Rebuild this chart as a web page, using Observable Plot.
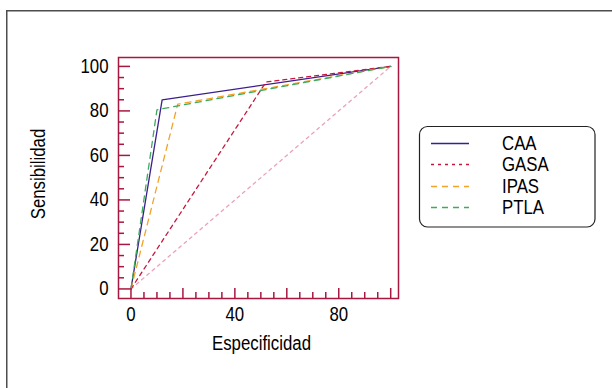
<!DOCTYPE html>
<html>
<head>
<meta charset="utf-8">
<script src="https://cdn.jsdelivr.net/npm/d3@7"></script>
<script src="https://cdn.jsdelivr.net/npm/@observablehq/plot@0.6"></script>
<style>
  body { margin: 0; background: #fff; }
  #chart { position: relative; width: 612px; height: 388px; overflow: hidden; }
  svg { font-family: "Liberation Sans", Arial, Helvetica, sans-serif; }
</style>
</head>
<body>
<div id="chart"></div>
<script>
// ---- data ----
const seriesNames = ["CAA", "GASA", "IPAS", "PTLA"];
const seriesColors = ["#3b1f8c", "#c8173f", "#f0a429", "#3fa95d"];
const seriesDashes = [null, "4,4", "6,5", "6,5"];

const caaX = [0, 12, 100];
const caaY = [0, 85, 100];
const gasaX = [0, 52, 100];
const gasaY = [0, 93, 100];
const ipasX = [0, 18, 100];
const ipasY = [0, 83, 100];
const ptlaX = [0, 10, 100];
const ptlaY = [0, 80.5, 100];
const refX = [0, 100];
const refY = [0, 100];

const xMajorTicks = [0, 20, 40, 60, 80, 100];
const xMinorTicks = [5, 10, 15, 25, 30, 35, 45, 50, 55, 65, 70, 75, 85, 90, 95];
const xTickLabels = [0, 40, 80];
const yMajorTicks = [0, 20, 40, 60, 80, 100];
const yMinorTicks = [5, 10, 15, 25, 30, 35, 45, 50, 55, 65, 70, 75, 85, 90, 95];
const yTickLabels = [0, 20, 40, 60, 80, 100];

// ---- layout ----
const W = 612, H = 388;
const mL = 118, mR = 214, mT = 57, mB = 90;
const frameW = W - mL - mR, frameH = H - mT - mB;
const axisColor = "#a8173f";
const FONT = '"Liberation Sans", Arial, Helvetica, sans-serif';
const FS = 20;
const SQUEEZE = 0.84; // condensed look of the original typeface

const pts = (xs, ys) => xs.map((x, i) => ({x, y: ys[i]}));
const seriesData = [pts(caaX, caaY), pts(gasaX, gasaY), pts(ipasX, ipasY), pts(ptlaX, ptlaY)];

const marks = [
  Plot.line(pts(refX, refY), {x: "x", y: "y", stroke: "#eaa2ba", strokeWidth: 1.3, strokeDasharray: "3,4"}),
  ...seriesData.map((d, i) => Plot.line(d, {
    x: "x", y: "y", stroke: seriesColors[i], strokeWidth: 1.3,
    strokeDasharray: seriesDashes[i]
  })),
  Plot.frame({stroke: axisColor, strokeWidth: 1.5}),
  Plot.tickX(xMajorTicks, {x: d => d, stroke: axisColor, strokeWidth: 1.5, insetTop: frameH - 10}),
  Plot.tickX(xMinorTicks, {x: d => d, stroke: axisColor, strokeWidth: 1.5, insetTop: frameH - 6}),
  Plot.tickY(yMajorTicks, {y: d => d, stroke: axisColor, strokeWidth: 1.5, insetRight: frameW - 12}),
  Plot.tickY(yMinorTicks, {y: d => d, stroke: axisColor, strokeWidth: 1.5, insetRight: frameW - 6}),
  Plot.axisX(xTickLabels, {tickSize: 0, tickPadding: 8, fontSize: FS, label: null}),
  Plot.axisY(yTickLabels, {tickSize: 0, tickPadding: 10, fontSize: FS, label: null}),
  Plot.text(["Especificidad"], {text: d => d, frameAnchor: "bottom", lineAnchor: "middle", textAnchor: "middle", dy: 45, dx: 3, fontSize: FS, fill: "black"}),
  Plot.text(["Sensibilidad"], {text: d => d, frameAnchor: "left", lineAnchor: "middle", textAnchor: "middle", dx: -80, dy: -4, rotate: -90, fontSize: FS, fill: "black"})
];

const svg = Plot.plot({
  width: W, height: H,
  marginLeft: mL, marginRight: mR, marginTop: mT, marginBottom: mB,
  x: {domain: [-4.8, 103]},
  y: {domain: [-4.3, 104]},
  style: {fontFamily: FONT, color: "black", background: "white", fontSize: FS + "px"},
  marks
});
document.getElementById("chart").appendChild(svg);

// outer panel border
const s = d3.select(svg);
s.append("rect")
  .attr("x", 6.75).attr("y", 10.75).attr("width", 800).attr("height", 600)
  .attr("fill", "none").attr("stroke", "#4d4d4d").attr("stroke-width", 1.5);

// legend
const lg = s.append("g").attr("text-anchor", "start");
lg.append("rect")
  .attr("x", 419.5).attr("y", 126.5).attr("width", 175.5).attr("height", 100.5)
  .attr("rx", 8).attr("fill", "white").attr("stroke", "#222").attr("stroke-width", 1.2);
const rowY = [143, 164, 186, 207];
seriesNames.forEach((name, i) => {
  lg.append("line")
    .attr("x1", 431).attr("x2", 469).attr("y1", rowY[i] + 0.5).attr("y2", rowY[i] + 0.5)
    .attr("stroke", seriesColors[i]).attr("stroke-width", 1.3)
    .attr("stroke-dasharray", i === 1 ? "3,4" : seriesDashes[i]);
  lg.append("text")
    .attr("x", 502).attr("y", rowY[i]).attr("dy", "0.35em")
    .attr("text-anchor", "start")
    .attr("font-family", FONT)
    .attr("font-size", FS).attr("fill", "black").text(name);
});

// condense all texts horizontally to mimic the narrow typeface,
// then re-anchor each one so its alignment point stays where it was
s.selectAll("text").each(function() {
  const len = this.getComputedTextLength();
  if (!(len > 0)) return;
  const anchor = getComputedStyle(this).textAnchor;
  const b0 = this.getBBox();
  this.setAttribute("textLength", (len * SQUEEZE).toFixed(2));
  this.setAttribute("lengthAdjust", "spacingAndGlyphs");
  const b1 = this.getBBox();
  let shift;
  if (anchor === "middle") shift = (b0.x + b0.width / 2) - (b1.x + b1.width / 2);
  else if (anchor === "end") shift = (b0.x + b0.width) - (b1.x + b1.width);
  else shift = b0.x - b1.x;
  if (Math.abs(shift) > 0.1) {
    const x0 = parseFloat(this.getAttribute("x")) || 0;
    this.setAttribute("x", (x0 + shift).toFixed(2));
  }
});
</script>
</body>
</html>
